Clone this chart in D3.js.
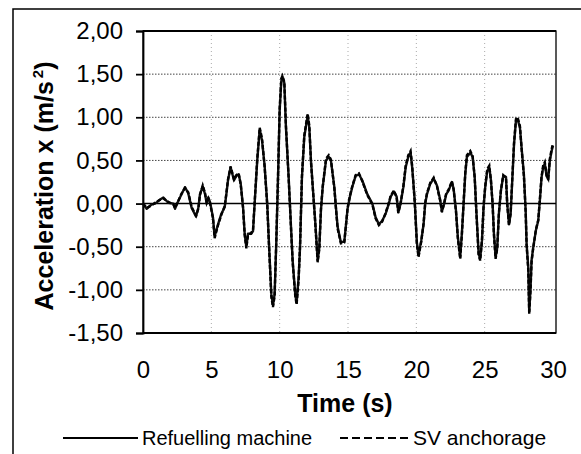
<!DOCTYPE html>
<html>
<head>
<meta charset="utf-8">
<script src="https://cdn.jsdelivr.net/npm/d3@7/dist/d3.min.js"></script>
<style>
  html, body { margin: 0; padding: 0; background: #fff; }
  svg { display: block; font-family: "Liberation Sans", Arial, sans-serif; }
</style>
</head>
<body>
<svg id="chart" width="581" height="454"></svg>
<script>
// ---- data ----
const xTicks = [0, 5, 10, 15, 20, 25, 30];
const yTicks = [-1.5, -1.0, -0.5, 0.0, 0.5, 1.0, 1.5, 2.0];
const seriesNames = ["Refuelling machine", "SV anchorage"];

const time = [0, 0.27, 0.64, 0.88, 1.2, 1.49, 1.85, 2.22, 2.34, 2.58, 2.83, 3.07, 3.31, 3.56, 3.88, 4.05, 4.17, 4.37, 4.54, 4.66, 4.78, 4.9,
  5.12, 5.24, 5.49, 5.73, 5.98, 6.1, 6.22, 6.41, 6.66, 6.83, 7.0, 7.15, 7.32, 7.44, 7.56, 7.68, 7.92, 8.05, 8.17, 8.36, 8.54, 8.71, 8.9,
  9.09, 9.22, 9.39, 9.51, 9.63, 9.75, 9.88, 10.0, 10.12, 10.2, 10.34, 10.46, 10.66, 10.83, 10.95, 11.14, 11.24, 11.39, 11.49, 11.63, 11.8,
  12.05, 12.17, 12.29, 12.46, 12.6, 12.78, 12.9, 13.02, 13.15, 13.39, 13.59, 13.75, 14.0, 14.12, 14.24, 14.48, 14.73, 14.97, 15.14, 15.31,
  15.56, 15.8, 16.04, 16.41, 16.78, 17.02, 17.26, 17.5, 17.75, 17.99, 18.12, 18.36, 18.56, 18.68, 18.85, 19.05, 19.22, 19.41, 19.58, 19.7,
  19.88, 20.04, 20.16, 20.36, 20.53, 20.65, 20.78, 21.02, 21.27, 21.51, 21.75, 21.87, 22.04, 22.19, 22.36, 22.6, 22.73, 22.9, 23.04, 23.21,
  23.33, 23.46, 23.58, 23.7, 23.95, 24.12, 24.27, 24.39, 24.56, 24.67, 24.8, 24.92, 25.04, 25.19, 25.34, 25.46, 25.58, 25.68, 25.8, 25.92,
  26.04, 26.19, 26.36, 26.56, 26.65, 26.78, 26.9, 27.02, 27.15, 27.29, 27.41, 27.58, 27.7, 27.87, 28.0, 28.07, 28.19, 28.26, 28.36, 28.43,
  28.55, 28.75, 28.92, 29.04, 29.16, 29.28, 29.4, 29.53, 29.65, 29.77, 29.9, 30.0];

const refuelling = [0.0, -0.06, -0.01, 0.0, 0.04, 0.07, 0.01, 0.0, -0.06, 0.03, 0.11, 0.19, 0.12, -0.05, -0.15, -0.05, 0.11, 0.20, 0.11, 0.0, 0.07, 0.02,
  -0.16, -0.38, -0.24, -0.12, -0.04, 0.11, 0.27, 0.42, 0.27, 0.32, 0.34, 0.23, -0.04, -0.35, -0.50, -0.35, -0.35, -0.32, 0.0, 0.50, 0.86, 0.73, 0.44,
  0.0, -0.47, -1.05, -1.18, -1.05, -0.47, 0.30, 1.08, 1.42, 1.47, 1.40, 0.88, 0.30, -0.27, -0.66, -1.05, -1.15, -0.85, -0.51, 0.30, 0.77,
  1.02, 0.88, 0.50, 0.11, -0.20, -0.66, -0.51, -0.08, 0.19, 0.50, 0.54, 0.50, 0.19, -0.05, -0.27, -0.45, -0.44, -0.06, 0.08, 0.19,
  0.32, 0.34, 0.27, 0.11, 0.0, -0.16, -0.24, -0.20, -0.12, 0.0, 0.08, 0.14, 0.08, -0.10, 0.0, 0.19, 0.42, 0.54, 0.59, 0.41,
  0.04, -0.45, -0.60, -0.43, -0.24, 0.0, 0.11, 0.23, 0.29, 0.21, 0.04, -0.09, 0.0, 0.11, 0.15, 0.25, 0.17, -0.08, -0.39, -0.62,
  -0.35, 0.0, 0.34, 0.54, 0.59, 0.54, 0.31, -0.08, -0.58, -0.64, -0.43, -0.04, 0.19, 0.38, 0.42, 0.27, 0.0, -0.35, -0.62, -0.51,
  -0.12, 0.15, 0.32, 0.31, 0.0, -0.24, -0.12, 0.27, 0.69, 0.96, 0.98, 0.88, 0.65, 0.34, -0.08, -0.47, -0.74, -1.25, -0.97, -0.66,
  -0.51, -0.31, -0.20, 0.04, 0.30, 0.42, 0.46, 0.32, 0.28, 0.50, 0.61, 0.67];

const anchorage = [0.0, -0.05, -0.02, 0.01, 0.04, 0.06, 0.02, -0.01, -0.05, 0.03, 0.12, 0.18, 0.13, -0.04, -0.14, -0.06, 0.10, 0.21, 0.12, 0.01, 0.06, 0.01,
  -0.17, -0.40, -0.25, -0.13, -0.03, 0.12, 0.28, 0.43, 0.28, 0.33, 0.35, 0.22, -0.05, -0.36, -0.52, -0.37, -0.34, -0.30, 0.02, 0.52, 0.88, 0.75, 0.42,
  -0.02, -0.49, -1.08, -1.20, -1.07, -0.45, 0.33, 1.10, 1.45, 1.48, 1.41, 0.90, 0.28, -0.29, -0.68, -1.07, -1.17, -0.87, -0.49, 0.32, 0.79,
  1.04, 0.90, 0.48, 0.10, -0.22, -0.68, -0.53, -0.06, 0.20, 0.52, 0.56, 0.51, 0.18, -0.06, -0.29, -0.46, -0.45, -0.05, 0.09, 0.20,
  0.33, 0.35, 0.26, 0.10, -0.01, -0.17, -0.25, -0.21, -0.11, 0.01, 0.09, 0.15, 0.07, -0.11, 0.01, 0.20, 0.44, 0.56, 0.61, 0.43,
  0.02, -0.47, -0.62, -0.44, -0.23, 0.01, 0.12, 0.24, 0.30, 0.20, 0.03, -0.10, 0.01, 0.12, 0.16, 0.26, 0.16, -0.09, -0.41, -0.64,
  -0.37, 0.02, 0.36, 0.56, 0.61, 0.55, 0.30, -0.10, -0.60, -0.66, -0.44, -0.03, 0.20, 0.40, 0.44, 0.26, -0.01, -0.37, -0.64, -0.52,
  -0.11, 0.16, 0.33, 0.30, -0.01, -0.25, -0.11, 0.29, 0.71, 0.98, 1.00, 0.90, 0.64, 0.32, -0.10, -0.49, -0.77, -1.28, -0.99, -0.68,
  -0.52, -0.30, -0.19, 0.05, 0.31, 0.44, 0.48, 0.33, 0.29, 0.52, 0.63, 0.70];

// ---- chart ----
const svg = d3.select("#chart");
const plot = { left: 143, right: 556, top: 31, bottom: 333 };
const x = d3.scaleLinear().domain([0, 30]).range([143, 553]);
const y = d3.scaleLinear().domain([-1.5, 2.0]).range([plot.bottom, plot.top]);
const fmt = v => d3.format(".2f")(v).replace(".", ",").replace("−", "-");

// outer frame
svg.append("path").attr("d", "M13,470V9H600").attr("fill", "none")
  .attr("stroke", "#000").attr("stroke-width", 1.5);

// vertical grid (faint dotted)
svg.append("g").selectAll("line").data(xTicks.filter(t => t > 0 && t < 30)).join("line")
  .attr("x1", d => x(d)).attr("x2", d => x(d)).attr("y1", plot.top).attr("y2", plot.bottom)
  .attr("stroke", "#aaa").attr("stroke-width", 1).attr("stroke-dasharray", "1,3");

// horizontal grid
svg.append("g").selectAll("line").data(yTicks.filter(v => v !== 0 && v > -1.5 && v < 2)).join("line")
  .attr("x1", plot.left).attr("x2", plot.right).attr("y1", d => y(d)).attr("y2", d => y(d))
  .attr("stroke", "#444").attr("stroke-width", 1).attr("stroke-dasharray", "1.5,1.5");

// plot border
svg.append("rect").attr("x", plot.left).attr("y", plot.top)
  .attr("width", plot.right - plot.left).attr("height", plot.bottom - plot.top)
  .attr("fill", "none").attr("stroke", "#000").attr("stroke-width", 1.3);
svg.append("line").attr("x1", plot.left).attr("x2", plot.right).attr("y1", plot.top).attr("y2", plot.top)
  .attr("stroke", "#000").attr("stroke-width", 2);
svg.append("line").attr("x1", plot.left).attr("x2", plot.right).attr("y1", plot.bottom).attr("y2", plot.bottom)
  .attr("stroke", "#000").attr("stroke-width", 2.2);

// zero line
svg.append("line").attr("x1", plot.left).attr("x2", plot.right).attr("y1", y(0)).attr("y2", y(0))
  .attr("stroke", "#000").attr("stroke-width", 1.6);

// y axis
const yAxis = svg.append("g").attr("transform", `translate(${plot.left},0)`)
  .call(d3.axisLeft(y).tickValues(yTicks).tickFormat(fmt).tickSize(7).tickPadding(13));
yAxis.select(".domain").attr("stroke-width", 1.8);
yAxis.selectAll(".tick line").attr("stroke-width", 1.8);
yAxis.selectAll("text").attr("font-size", 24).attr("fill", "#000")
  .attr("font-family", "'Liberation Sans', Arial, sans-serif");

// x axis
const xAxis = svg.append("g").attr("transform", `translate(0,${plot.bottom})`)
  .call(d3.axisBottom(x).tickValues(xTicks).tickFormat(d3.format("d")).tickSize(0).tickPadding(28));
xAxis.select(".domain").remove();
xAxis.selectAll("text").attr("font-size", 24).attr("fill", "#000")
  .attr("font-family", "'Liberation Sans', Arial, sans-serif");

// series
const pts1 = time.map((t, i) => [t, refuelling[i]]);
const pts2 = time.map((t, i) => [t, anchorage[i]]);
const line = d3.line().x(d => x(d[0])).y(d => y(d[1]));
svg.append("path").datum(pts1).attr("d", line).attr("fill", "none")
  .attr("stroke", "#111").attr("stroke-width", 2.4).attr("stroke-linejoin", "round");
svg.append("path").datum(pts2).attr("d", line).attr("fill", "none")
  .attr("stroke", "#000").attr("stroke-width", 2.4).attr("stroke-dasharray", "4,2");

// axis titles
svg.append("text").attr("x", 345).attr("y", 412).attr("text-anchor", "middle")
  .attr("font-size", 25).attr("font-weight", "bold").text("Time (s)");

const yt = svg.append("text").attr("transform", "translate(53,186) rotate(-90)")
  .attr("text-anchor", "middle").attr("font-size", 25).attr("font-weight", "bold");
yt.append("tspan").text("Acceleration x (m/s");
yt.append("tspan").attr("font-size", 15).attr("dy", -10).attr("dx", 3).text("2");
yt.append("tspan").attr("dy", 10).text(")");

// legend
const legend = svg.append("g");
legend.append("line").attr("x1", 63).attr("x2", 138).attr("y1", 438).attr("y2", 438)
  .attr("stroke", "#000").attr("stroke-width", 2);
legend.append("text").attr("x", 142).attr("y", 445).attr("font-size", 20).text(seriesNames[0]);
legend.append("line").attr("x1", 340).attr("x2", 411).attr("y1", 438).attr("y2", 438)
  .attr("stroke", "#000").attr("stroke-width", 2).attr("stroke-dasharray", "8,4");
legend.append("text").attr("x", 413).attr("y", 445).attr("font-size", 21).text(seriesNames[1]);
</script>
</body>
</html>
